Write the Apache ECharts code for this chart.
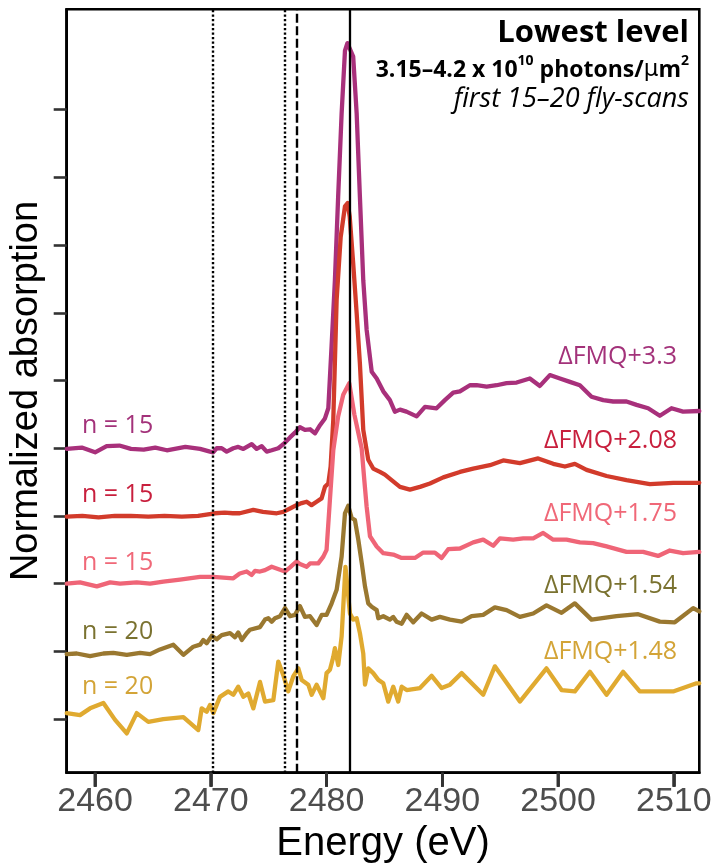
<!DOCTYPE html>
<html>
<head>
<meta charset="utf-8">
<script src="https://cdn.jsdelivr.net/npm/echarts@6/dist/echarts.min.js"></script>
<style>
  html, body { margin: 0; padding: 0; background: #fff; }
  #chart { width: 711px; height: 863px; }
</style>
</head>
<body>
<div id="chart"></div>
<script>
// ---------------- data ----------------
const xTicks = [2460, 2470, 2480, 2490, 2500, 2510];
const yTicks = [0, 1, 2, 3, 4, 5, 6, 7, 8, 9];
const refEnergies = { dotted: [2470.2, 2476.4], dashed: [2477.4], solid: [2481.96] };

const seriesNames = ['ΔFMQ+3.3', 'ΔFMQ+2.08', 'ΔFMQ+1.75', 'ΔFMQ+1.54', 'ΔFMQ+1.48'];
const scanCounts = ['n = 15', 'n = 15', 'n = 15', 'n = 20', 'n = 20'];

const fmq330E = [2457.55, 2458.85, 2460.0, 2461.0, 2462.1, 2463.1, 2464.2, 2465.2, 2466.2, 2467.8, 2469.07, 2469.93, 2470.2, 2470.51, 2470.94, 2471.37, 2471.94, 2472.37, 2472.81, 2473.53, 2473.96, 2474.4, 2474.83, 2475.26, 2475.83, 2476.26, 2476.84, 2477.27, 2477.7, 2478.13, 2478.57, 2479.0, 2479.43, 2479.86, 2480.15, 2480.43, 2480.72, 2481.0, 2481.3, 2481.59, 2481.8, 2481.96, 2482.3, 2482.6, 2482.88, 2483.17, 2483.46, 2483.9, 2484.33, 2484.9, 2485.47, 2485.9, 2486.34, 2486.9, 2487.78, 2488.5, 2489.5, 2490.22, 2490.94, 2491.52, 2492.38, 2492.96, 2493.83, 2494.69, 2495.55, 2496.42, 2497.56, 2498.43, 2499.29, 2500.16, 2501.02, 2501.88, 2502.89, 2503.9, 2504.76, 2505.91, 2506.78, 2507.78, 2508.79, 2509.8, 2510.8, 2512.2];
const fmq330Y = [3.99, 4.01, 3.94, 4.03, 4.04, 3.99, 3.98, 4.01, 3.97, 4.02, 3.99, 3.95, 3.94, 4.0, 4.0, 3.95, 4.0, 4.02, 3.99, 4.06, 3.99, 4.03, 3.95, 3.97, 4.0, 4.06, 4.16, 4.23, 4.31, 4.27, 4.28, 4.22, 4.34, 4.44, 4.59, 5.50, 6.48, 7.71, 8.94, 9.87, 9.98, 9.98, 9.78, 8.94, 7.71, 6.48, 5.75, 5.13, 5.03, 4.84, 4.71, 4.54, 4.57, 4.54, 4.47, 4.61, 4.59, 4.71, 4.82, 4.84, 4.93, 4.93, 4.91, 4.93, 4.96, 4.97, 5.03, 4.92, 5.08, 5.03, 4.98, 4.93, 4.76, 4.71, 4.69, 4.69, 4.64, 4.59, 4.48, 4.59, 4.54, 4.55];

const fmq208E = [2457.55, 2458.9, 2460.3, 2461.7, 2463.1, 2464.6, 2466.0, 2467.5, 2468.9, 2470.34, 2471.2, 2471.9, 2472.5, 2473.67, 2474.5, 2475.7, 2476.26, 2476.84, 2477.4, 2477.85, 2478.28, 2478.7, 2479.14, 2479.57, 2479.86, 2480.15, 2480.35, 2480.58, 2480.87, 2481.22, 2481.59, 2481.82, 2482.0, 2482.3, 2482.6, 2482.88, 2483.17, 2483.6, 2484.03, 2484.61, 2485.04, 2485.62, 2486.34, 2487.2, 2488.07, 2488.93, 2490.08, 2491.52, 2492.67, 2494.11, 2495.26, 2496.7, 2498.28, 2499.58, 2500.59, 2501.45, 2502.46, 2504.19, 2505.91, 2507.93, 2509.94, 2512.2];
const fmq208Y = [2.99, 3.0, 2.98, 3.0, 3.0, 2.99, 3.0, 2.99, 3.0, 3.04, 3.05, 3.04, 3.04, 3.09, 3.06, 3.04, 3.06, 3.11, 3.16, 3.19, 3.21, 3.16, 3.21, 3.26, 3.43, 3.48, 3.73, 4.42, 6.19, 7.12, 7.57, 7.62, 7.42, 6.73, 5.99, 5.25, 4.27, 3.83, 3.70, 3.65, 3.61, 3.53, 3.43, 3.39, 3.43, 3.48, 3.57, 3.65, 3.70, 3.75, 3.82, 3.78, 3.85, 3.77, 3.73, 3.77, 3.68, 3.59, 3.53, 3.47, 3.49, 3.49];

const fmq175E = [2457.55, 2458.7, 2460.15, 2461.3, 2462.16, 2463.6, 2464.75, 2465.9, 2467.34, 2469.07, 2470.2, 2471.94, 2472.5, 2473.1, 2473.53, 2473.82, 2474.25, 2474.68, 2475.26, 2476.41, 2476.84, 2477.42, 2477.7, 2478.28, 2478.57, 2479.28, 2479.72, 2480.0, 2480.29, 2480.58, 2481.0, 2481.44, 2481.96, 2482.4, 2483.03, 2483.25, 2483.46, 2483.75, 2484.33, 2484.9, 2485.76, 2486.49, 2487.63, 2488.35, 2489.36, 2489.94, 2490.51, 2491.52, 2492.67, 2493.53, 2494.4, 2494.97, 2496.12, 2496.99, 2497.85, 2498.71, 2499.58, 2500.73, 2501.88, 2503.03, 2504.19, 2505.91, 2507.35, 2508.64, 2509.65, 2510.8, 2512.2];
const fmq175Y = [2.00, 2.02, 1.96, 2.02, 2.00, 2.02, 2.00, 2.03, 2.06, 2.10, 2.10, 2.08, 2.15, 2.18, 2.13, 2.19, 2.18, 2.20, 2.25, 2.18, 2.24, 2.33, 2.29, 2.25, 2.30, 2.30, 2.40, 2.50, 3.24, 3.97, 4.47, 4.79, 4.96, 4.50, 4.00, 3.55, 3.14, 2.70, 2.55, 2.45, 2.43, 2.38, 2.38, 2.46, 2.46, 2.38, 2.51, 2.52, 2.61, 2.65, 2.56, 2.67, 2.65, 2.67, 2.67, 2.75, 2.65, 2.65, 2.61, 2.60, 2.55, 2.47, 2.47, 2.41, 2.49, 2.45, 2.47];

const fmq154E = [2457.55, 2458.42, 2459.57, 2460.72, 2461.58, 2462.74, 2463.89, 2464.75, 2465.61, 2466.76, 2467.63, 2468.49, 2469.07, 2469.35, 2469.64, 2470.08, 2470.51, 2470.94, 2471.66, 2472.09, 2472.37, 2472.67, 2473.1, 2473.38, 2474.25, 2474.68, 2474.97, 2475.26, 2475.54, 2475.98, 2476.41, 2476.84, 2477.27, 2477.7, 2478.13, 2478.57, 2479.14, 2479.58, 2480.0, 2480.44, 2480.87, 2481.3, 2481.59, 2481.87, 2482.17, 2482.45, 2482.74, 2483.06, 2483.32, 2483.6, 2483.9, 2484.33, 2484.47, 2484.9, 2485.47, 2485.76, 2486.05, 2486.49, 2486.92, 2487.49, 2488.21, 2489.08, 2489.79, 2490.66, 2491.67, 2492.53, 2493.53, 2494.54, 2495.55, 2496.7, 2497.85, 2499.0, 2500.3, 2501.45, 2502.89, 2505.05, 2506.92, 2508.79, 2510.08, 2511.67, 2512.2];
const fmq154Y = [0.96, 0.97, 0.93, 0.97, 0.98, 0.95, 0.98, 0.96, 1.03, 1.10, 0.95, 1.07, 1.10, 1.17, 1.12, 1.23, 1.18, 1.24, 1.27, 1.21, 1.28, 1.17, 1.27, 1.32, 1.36, 1.47, 1.49, 1.44, 1.49, 1.52, 1.64, 1.52, 1.54, 1.67, 1.51, 1.52, 1.39, 1.54, 1.54, 1.71, 1.91, 2.40, 3.04, 3.15, 2.97, 2.94, 2.65, 2.28, 1.96, 1.71, 1.66, 1.61, 1.49, 1.52, 1.47, 1.51, 1.44, 1.41, 1.54, 1.43, 1.56, 1.47, 1.51, 1.47, 1.44, 1.52, 1.54, 1.65, 1.61, 1.51, 1.56, 1.68, 1.57, 1.71, 1.47, 1.52, 1.55, 1.44, 1.43, 1.64, 1.59];

const fmq148E = [2457.55, 2458.7, 2459.57, 2460.72, 2461.73, 2462.74, 2463.6, 2464.6, 2465.9, 2467.63, 2468.92, 2469.21, 2469.64, 2469.93, 2470.22, 2470.79, 2471.51, 2471.94, 2472.37, 2472.81, 2473.24, 2473.67, 2474.25, 2474.68, 2475.4, 2475.83, 2476.26, 2476.69, 2477.12, 2477.56, 2477.85, 2478.42, 2478.71, 2479.14, 2479.72, 2480.0, 2480.29, 2480.58, 2480.72, 2481.01, 2481.3, 2481.63, 2482.02, 2482.3, 2482.6, 2482.88, 2483.17, 2483.32, 2483.6, 2484.03, 2484.47, 2484.9, 2485.33, 2485.76, 2486.19, 2486.49, 2486.92, 2488.07, 2489.08, 2489.94, 2490.66, 2491.67, 2493.53, 2494.54, 2496.7, 2499.0, 2500.3, 2501.45, 2502.75, 2504.19, 2505.62, 2507.06, 2509.94, 2511.96, 2512.2];
const fmq148Y = [0.09, 0.06, 0.16, 0.24, -0.01, -0.21, 0.09, -0.04, 0.00, 0.03, -0.16, 0.16, 0.11, 0.21, 0.09, 0.33, 0.41, 0.36, 0.48, 0.33, 0.38, 0.16, 0.55, 0.26, 0.28, 0.85, 0.65, 0.41, 0.63, 0.75, 0.58, 0.51, 0.36, 0.51, 0.31, 0.68, 0.73, 0.92, 1.05, 0.80, 1.22, 2.25, 1.56, 1.47, 1.49, 1.27, 0.97, 0.51, 0.75, 0.68, 0.58, 0.53, 0.26, 0.48, 0.26, 0.48, 0.43, 0.46, 0.64, 0.46, 0.51, 0.68, 0.36, 0.78, 0.26, 0.75, 0.43, 0.41, 0.70, 0.36, 0.70, 0.41, 0.41, 0.53, 0.53];

// ---------------- styling ----------------
const lineColors = ['#A8307B', '#D23B2B', '#EF6577', '#9A7830', '#E0AA30'];
const labelColors = ['#A3327A', '#C81F3D', '#F06878', '#7A7230', '#D3A437'];
const annFont = '"Open Sans", "Liberation Sans", sans-serif';

const energies = [fmq330E, fmq208E, fmq175E, fmq154E, fmq148E];
const values = [fmq330Y, fmq208Y, fmq175Y, fmq154Y, fmq148Y];
const xMin = 2457.55, xMax = 2512.2;
const yMin = -0.79, yMax = 10.48;
const gridBox = { left: 66.7, right: 11.7, top: 9.3, bottom: 90.3 };

function zip(xs, ys) {
  const n = Math.min(xs.length, ys.length);
  const out = [];
  for (let i = 0; i < n; i++) out.push([xs[i], ys[i]]);
  return out;
}

const series = seriesNames.map((name, i) => ({
  name: name,
  type: 'line',
  data: zip(energies[i], values[i]),
  showSymbol: false,
  symbol: 'none',
  smooth: false,
  z: 3,
  lineStyle: { color: lineColors[i], width: 4.3, join: 'round', cap: 'round' },
  emphasis: { disabled: true }
}));

const refLineData = [];
refEnergies.dotted.forEach(e => refLineData.push({ xAxis: e, lineStyle: { type: [2.2, 2.3], width: 2.4, color: '#000' } }));
refEnergies.dashed.forEach(e => refLineData.push({ xAxis: e, lineStyle: { type: [9, 3.5], width: 2.4, color: '#000' } }));
refEnergies.solid.forEach(e => refLineData.push({ xAxis: e, lineStyle: { type: 'solid', width: 2.3, color: '#000' } }));

series.push({
  name: 'refs',
  type: 'line',
  data: [],
  z: 5,
  silent: true,
  markLine: { symbol: 'none', silent: true, label: { show: false }, animation: false, data: refLineData }
});

// x-axis tick marks: custom series, unclipped, placed with the axis scale
series.push({
  name: 'xticks',
  type: 'custom',
  coordinateSystem: 'cartesian2d',
  clip: false,
  silent: true,
  z: 30,
  data: xTicks.map(v => [v, yMin]),
  renderItem: function (params, api) {
    const p = api.coord([api.value(0), api.value(1)]);
    return {
      type: 'line',
      shape: { x1: p[0], y1: p[1], x2: p[0], y2: p[1] + 14 },
      style: { stroke: '#333', lineWidth: 2.7 },
      z2: 100
    };
  }
});

// annotation labels
const nLabelY = [426, 495, 563, 632, 687];
const fmqLabelY = [357, 441, 514, 586, 652];
const graphics = [];
scanCounts.forEach((t, i) => {
  graphics.push({ type: 'text', x: 82, y: nLabelY[i], z: 20,
    style: { text: t, fill: labelColors[i], font: '25px ' + annFont, textAlign: 'left', textVerticalAlign: 'middle' } });
});
seriesNames.forEach((t, i) => {
  graphics.push({ type: 'text', x: 677, y: fmqLabelY[i], z: 20,
    style: { text: t, fill: labelColors[i], font: '25px ' + annFont, textAlign: 'right', textVerticalAlign: 'middle' } });
});
graphics.push({ type: 'text', x: 689, y: 33, z: 20,
  style: { text: 'Lowest level', fill: '#000', font: 'bold 31px ' + annFont, textAlign: 'right', textVerticalAlign: 'middle' } });
graphics.push({ type: 'text', x: 689, y: 68, z: 20,
  style: {
    text: '{b|3.15–4.2 x 10}{sup|10}{b| photons/}{mu|μ}{b|m}{sup|2}',
    textAlign: 'right', textVerticalAlign: 'middle',
    rich: {
      b: { font: 'bold 23px ' + annFont, fill: '#000', lineHeight: 27, verticalAlign: 'bottom' },
      mu: { font: '23px "DejaVu Sans", sans-serif', fill: '#000', lineHeight: 27, verticalAlign: 'bottom' },
      sup: { font: 'bold 14px ' + annFont, fill: '#000', lineHeight: 27, verticalAlign: 'top' }
    }
  } });
graphics.push({ type: 'text', x: 689, y: 99, z: 20,
  style: { text: 'first 15–20 fly-scans', fill: '#000', font: 'italic 27px ' + annFont, textAlign: 'right', textVerticalAlign: 'middle' } });

const option = {
  animation: false,
  backgroundColor: '#fff',
  grid: { left: gridBox.left, right: gridBox.right, top: gridBox.top, bottom: gridBox.bottom, show: true,
          borderColor: '#000', borderWidth: 2.6, containLabel: false, outerBoundsMode: 'none' },
  xAxis: {
    type: 'value', min: xMin, max: xMax, position: 'bottom',
    name: 'Energy (eV)', nameLocation: 'middle', nameGap: 40,
    nameTextStyle: { fontFamily: '"Liberation Sans", Arial, sans-serif', fontSize: 40, color: '#000' },
    axisLine: { show: true, onZero: false, lineStyle: { color: '#000', width: 2.6 } },
    axisTick: { show: true, inside: false, customValues: xTicks, length: 14, lineStyle: { color: '#333', width: 2.7 } },
    axisLabel: { show: true, customValues: xTicks, margin: 12, formatter: v => String(v),
      fontFamily: '"Liberation Sans Narrow", "Arial Narrow", "Liberation Sans", sans-serif', fontSize: 34, color: '#4D4D4D' },
    splitLine: { show: false }
  },
  yAxis: {
    type: 'value', min: yMin, max: yMax, position: 'left',
    name: 'Normalized absorption', nameLocation: 'middle', nameGap: 21, nameRotate: 90,
    nameTextStyle: { fontFamily: '"Liberation Sans", Arial, sans-serif', fontSize: 38, color: '#000' },
    axisLine: { show: true, onZero: false, lineStyle: { color: '#000', width: 2.6 } },
    axisTick: { show: true, inside: false, customValues: yTicks, length: 13, lineStyle: { color: '#333', width: 2.6 } },
    axisLabel: { show: false },
    splitLine: { show: false }
  },
  series: series,
  graphic: graphics
};

const chart = echarts.init(document.getElementById('chart'), null, { renderer: 'canvas' });
chart.setOption(option);

// fallback tick marks as graphic lines, positioned through the axis scale
const tickGraphics = [];
xTicks.forEach((v, k) => {
  let p = null;
  try { p = chart.convertToPixel({ xAxisIndex: 0, yAxisIndex: 0 }, [v, yMin]); } catch (e) { p = null; }
  if (!p || !isFinite(p[0]) || !isFinite(p[1])) {
    const w = 711 - gridBox.left - gridBox.right;
    p = [gridBox.left + (v - xMin) / (xMax - xMin) * w, 863 - gridBox.bottom];
  }
  tickGraphics.push({ type: 'line', id: 'xtick' + k, z: 50, silent: true,
    shape: { x1: p[0], y1: p[1], x2: p[0], y2: p[1] + 14 },
    style: { stroke: '#333', lineWidth: 2.7 } });
});
chart.setOption({ graphic: graphics.concat(tickGraphics) });
</script>
</body>
</html>
